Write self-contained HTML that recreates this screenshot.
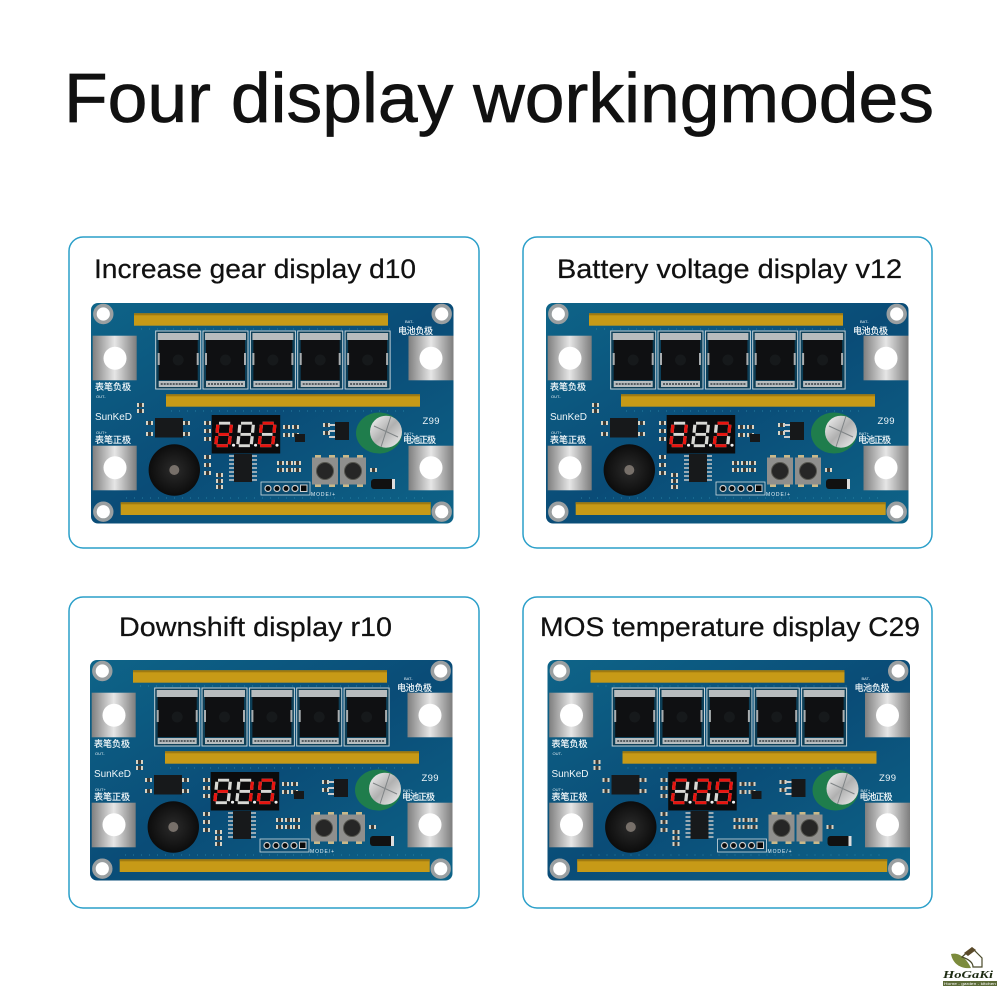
<!DOCTYPE html>
<html><head><meta charset="utf-8"><style>
html,body{margin:0;padding:0;background:#fff}
svg{display:block}
.cn{font-family:"Liberation Sans","Noto Sans CJK SC",sans-serif;fill:#eef5f8;font-size:9px;stroke:#eef5f8;stroke-width:.2}
.sm{font-family:"Liberation Sans",sans-serif;fill:#e8f2f6;font-size:4px}
.t{font-family:"Liberation Sans","Noto Sans CJK SC",sans-serif;fill:#111;stroke:#111;stroke-width:.25;font-size:27px}
.r{stroke:#e8140f}
.seg{fill:none;stroke-width:2.9}
</style></head><body>
<svg width="1000" height="1000" viewBox="0 0 1000 1000" xmlns="http://www.w3.org/2000/svg">
<defs>
<linearGradient id="sil" x1="0" x2="1" y1="0" y2="0"><stop offset="0" stop-color="#7f7f7f"/><stop offset=".5" stop-color="#e6e6e6"/><stop offset="1" stop-color="#7d7d7d"/></linearGradient>
<linearGradient id="pcb" x1="0" x2="1" y1="0" y2="1"><stop offset="0" stop-color="#0e6488"/><stop offset=".5" stop-color="#0a4c77"/><stop offset="1" stop-color="#0e6488"/></linearGradient>
<linearGradient id="cap" x1="0" x2="1" y1="0" y2="1"><stop offset="0" stop-color="#f7f7f7"/><stop offset=".5" stop-color="#b0b0b0"/><stop offset="1" stop-color="#f2f2f2"/></linearGradient>
<radialGradient id="buz"><stop offset="0" stop-color="#2b2b2b"/><stop offset="1" stop-color="#0c0c0c"/></radialGradient>

<g id="mos">
<rect x="0" y="0" width="45" height="58" fill="#0d3f58" stroke="#c4d2d8" stroke-width="1"/>
<rect x="2" y="2" width="41" height="7" fill="#b8bcbe"/>
<rect x="3" y="9" width="39" height="40" fill="#0f1012"/>
<circle cx="22.5" cy="29" r="5.5" fill="#16191b"/>
<rect x="2" y="22" width="2" height="12" fill="#a9adaf"/><rect x="41" y="22" width="2" height="12" fill="#a9adaf"/>
<rect x="3" y="50" width="39" height="6" fill="#b8bdbf"/>
<path d="M5 53h35" stroke="#333b40" stroke-width="1.6" stroke-dasharray="2 1"/>
</g>
<g id="btn">
<rect x="-10" y="-16" width="6" height="5" fill="#c9b98a"/><rect x="4" y="-16" width="6" height="5" fill="#c9b98a"/>
<rect x="-10" y="11" width="6" height="5" fill="#c9b98a"/><rect x="4" y="11" width="6" height="5" fill="#c9b98a"/>
<rect x="-13" y="-13.5" width="26" height="27" fill="#8f8f8d"/>
<circle cx="0" cy="0" r="9" fill="#55554f"/><circle cx="0" cy="0" r="8" fill="#262626"/>
</g>
<g id="smd"><rect width="7" height="4" fill="#d8d3c4"/><rect x="2" width="3" height="4" fill="#3a3a36"/></g>

<g id="board">
<rect x="0" y="0" width="362.5" height="220.5" rx="7" fill="url(#pcb)"/>
<rect x="43" y="10.3" width="254" height="12.4" fill="#c79a17"/>
<rect x="43" y="10.3" width="254" height="2" fill="#a07a10"/>
<rect x="75" y="91.3" width="254" height="12.4" fill="#c79a17"/>
<rect x="75" y="91.3" width="254" height="2" fill="#a07a10"/>
<rect x="29.7" y="199.3" width="310" height="12.7" fill="#c79a17"/>
<rect x="29.7" y="199.3" width="310" height="2" fill="#a07a10"/>
<path d="M50 26H300M80 108H320M35 195H335" stroke="#2f8fb0" stroke-width=".8" stroke-dasharray="1 7"/>

<rect x="1.7" y="32.7" width="44" height="44.6" fill="url(#sil)"/><circle cx="24" cy="55.3" r="11.5" fill="#fff"/>
<rect x="1.7" y="142.7" width="44" height="44.6" fill="url(#sil)"/><circle cx="24" cy="164.7" r="11.5" fill="#fff"/>
<rect x="317.5" y="32.7" width="45" height="44.6" fill="url(#sil)"/><circle cx="340" cy="55.3" r="11.5" fill="#fff"/>
<rect x="317.5" y="142.7" width="45" height="44.6" fill="url(#sil)"/><circle cx="340" cy="164.7" r="11.5" fill="#fff"/>

<g fill="#fff" stroke="#9a9fa1" stroke-width="3.6">
<circle cx="12.3" cy="11" r="8.4"/><circle cx="350.7" cy="11" r="8.4"/>
<circle cx="12.3" cy="208.7" r="8.4"/><circle cx="350.7" cy="208.7" r="8.4"/>
</g>

<use href="#mos" x="64.7" y="28"/><use href="#mos" x="112" y="28"/><use href="#mos" x="159.4" y="28"/><use href="#mos" x="206.7" y="28"/><use href="#mos" x="254.1" y="28"/>

<rect x="120.7" y="112" width="68.5" height="38.5" fill="#0b0b0c"/>

<rect x="64" y="115" width="28" height="19.5" fill="#17191b"/>
<use href="#smd" x="55" y="118"/><use href="#smd" x="55" y="129"/><use href="#smd" x="92" y="118"/><use href="#smd" x="92" y="129"/>
<use href="#smd" x="46" y="100"/><use href="#smd" x="46" y="106"/><use href="#smd" x="113" y="118"/><use href="#smd" x="113" y="126"/><use href="#smd" x="113" y="134"/>
<use href="#smd" x="113" y="152"/><use href="#smd" x="113" y="160"/><use href="#smd" x="113" y="168"/>
<use href="#smd" x="125" y="170"/><use href="#smd" x="125" y="176"/><use href="#smd" x="125" y="182"/>
<use href="#smd" x="186" y="158"/><use href="#smd" x="186" y="165"/><use href="#smd" x="195" y="158"/><use href="#smd" x="195" y="165"/><use href="#smd" x="203" y="158"/><use href="#smd" x="203" y="165"/>
<use href="#smd" x="192" y="122"/><use href="#smd" x="192" y="130"/><use href="#smd" x="201" y="122"/><use href="#smd" x="201" y="130"/>
<use href="#smd" x="232" y="120"/><use href="#smd" x="232" y="128"/>
<rect x="143" y="151" width="18" height="28" fill="#17191b"/>
<path d="M138 153h5M138 157h5M138 161h5M138 165h5M138 169h5M138 173h5M138 177h5M161 153h5M161 157h5M161 161h5M161 165h5M161 169h5M161 173h5M161 177h5" stroke="#c8c8c8" stroke-width="1.6"/>
<rect x="244" y="119" width="14" height="18" fill="#16181a"/>
<path d="M238 122h6M238 128h6M238 134h6" stroke="#ccc" stroke-width="2"/>
<rect x="204" y="131" width="10" height="8" fill="#16181a"/>

<circle cx="83.3" cy="167" r="25.7" fill="url(#buz)"/><circle cx="83.3" cy="167" r="5" fill="#77706a"/>

<rect x="170" y="179" width="49" height="13" fill="#0c4c70" stroke="#cfdde2" stroke-width=".8"/>
<g fill="#0a0a0a" stroke="#cfcfcf" stroke-width="1.2"><circle cx="177" cy="185.5" r="3"/><circle cx="186" cy="185.5" r="3"/><circle cx="195" cy="185.5" r="3"/><circle cx="204" cy="185.5" r="3"/></g>
<rect x="209.5" y="182" width="6.5" height="6.5" fill="#0a0a0a" stroke="#cfcfcf" stroke-width="1"/>

<ellipse cx="288" cy="130" rx="23" ry="20.5" fill="#1f7d4c"/>
<circle cx="295" cy="128.7" r="16" fill="url(#cap)"/>
<path d="M283 123L307 134M290 144L300 113" stroke="#7f8486" stroke-width="1"/>

<use href="#btn" x="234" y="168"/><use href="#btn" x="262" y="168"/>
<rect x="280" y="176" width="24" height="10" rx="3" fill="#111"/><rect x="301" y="176" width="3" height="10" fill="#ddd"/>
<use href="#smd" x="279" y="165"/>

<text class="cn" x="4" y="87" textLength="36">表笔负极</text>
<text class="sm" x="5" y="95">OUT-</text>
<text x="4" y="117" font-family="Liberation Sans,sans-serif" font-size="10" fill="#eef5f8" textLength="37">SunKeD</text>
<text class="sm" x="5" y="131">OUT+</text>
<text class="cn" x="4" y="140" textLength="36">表笔正极</text>
<text class="sm" x="314" y="20">BAT-</text>
<text class="cn" x="307" y="31" textLength="35">电池负极</text>
<text x="331.5" y="121" font-family="Liberation Sans,sans-serif" font-size="9.5" fill="#eef5f8" textLength="17">Z99</text>
<text class="sm" x="313" y="132">BAT+</text>
<text class="cn" x="312" y="140" textLength="33">电池正极</text>
<text class="sm" x="220" y="193" style="font-size:5px" textLength="24">MODE/+</text>
</g>

<path id="sa" d="M4 1.5H14"/>
<path id="sb" d="M15 3L14.3 11"/>
<path id="sc" d="M14 14.5L13.2 22.5"/>
<path id="sd" d="M2 24H12"/>
<path id="se" d="M2 14.5L1.2 22.5"/>
<path id="sf" d="M3 3L2.3 11"/>
<path id="sg" d="M3.5 12.7H13"/>
<g id="base" stroke="#d8d8d4">
<use href="#sa"/><use href="#sb"/><use href="#sc"/><use href="#sd"/><use href="#se"/><use href="#sf"/><use href="#sg"/>
<circle cx="17" cy="23.5" r="1.4" fill="#f0f0f0" stroke="none"/>
</g>
</defs>

<rect width="1000" height="1000" fill="#fff"/>
<text x="64" y="122" font-family="Liberation Sans,sans-serif" font-size="70" fill="#111" stroke="#111" stroke-width=".7" textLength="870" lengthAdjust="spacingAndGlyphs">Four display workingmodes</text>

<g fill="#fff" stroke="#2a9fc9" stroke-width="1.5">
<rect x="69" y="237" width="410" height="311" rx="14"/>
<rect x="523" y="237" width="409" height="311" rx="14"/>
<rect x="69" y="597" width="410" height="311" rx="14"/>
<rect x="523" y="597" width="409" height="311" rx="14"/>
</g>

<text class="t" x="94" y="278" textLength="322" lengthAdjust="spacingAndGlyphs">Increase gear display d10</text>
<text class="t" x="557" y="278" textLength="345" lengthAdjust="spacingAndGlyphs">Battery voltage display v12</text>
<text class="t" x="119" y="636" textLength="273" lengthAdjust="spacingAndGlyphs">Downshift display r10</text>
<text class="t" x="540" y="636" textLength="380" lengthAdjust="spacingAndGlyphs">MOS temperature display C29</text>

<!-- board 1 : d10 -->
<g transform="translate(91 303)">
<use href="#board"/>
<g class="seg" transform="translate(123.5 118.7) scale(1.12 1)"><use href="#base"/><g class="r"><use href="#sb"/><use href="#sc"/><use href="#sd"/><use href="#se"/><use href="#sf"/><use href="#sg"/></g></g>
<g class="seg" transform="translate(145.5 118.7) scale(1.12 1)"><use href="#base"/></g>
<g class="seg" transform="translate(167 118.7) scale(1.12 1)"><use href="#base"/><g class="r"><use href="#sa"/><use href="#sb"/><use href="#sc"/><use href="#sd"/><use href="#se"/><use href="#sf"/></g></g>
</g>

<!-- board 2 : v12 -->
<g transform="translate(546 303)">
<use href="#board"/>
<g class="seg" transform="translate(123.5 118.7) scale(1.12 1)"><use href="#base"/><g class="r"><use href="#sb"/><use href="#sc"/><use href="#sd"/><use href="#se"/><use href="#sf"/></g></g>
<g class="seg" transform="translate(145.5 118.7) scale(1.12 1)"><use href="#base"/></g>
<g class="seg" transform="translate(167 118.7) scale(1.12 1)"><use href="#base"/><g class="r"><use href="#sa"/><use href="#sb"/><use href="#sg"/><use href="#se"/><use href="#sd"/></g></g>
</g>

<!-- board 3 : r10 -->
<g transform="translate(90 660)">
<use href="#board"/>
<g class="seg" transform="translate(123.5 118.7) scale(1.12 1)"><use href="#base"/><g class="r"><use href="#se"/><use href="#sg"/></g></g>
<g class="seg" transform="translate(145.5 118.7) scale(1.12 1)"><use href="#base"/><g class="r"><use href="#sb"/><use href="#sc"/></g></g>
<g class="seg" transform="translate(167 118.7) scale(1.12 1)"><use href="#base"/><g class="r"><use href="#sa"/><use href="#sb"/><use href="#sc"/><use href="#sd"/><use href="#se"/><use href="#sf"/></g></g>
</g>

<!-- board 4 : C29 -->
<g transform="translate(547.5 660)">
<use href="#board"/>
<g class="seg" transform="translate(123.5 118.7) scale(1.12 1)"><use href="#base"/><g class="r"><use href="#sa"/><use href="#sd"/><use href="#se"/><use href="#sf"/></g></g>
<g class="seg" transform="translate(145.5 118.7) scale(1.12 1)"><use href="#base"/><g class="r"><use href="#sa"/><use href="#sb"/><use href="#sg"/><use href="#se"/><use href="#sd"/></g></g>
<g class="seg" transform="translate(167 118.7) scale(1.12 1)"><use href="#base"/><g class="r"><use href="#sa"/><use href="#sb"/><use href="#sc"/><use href="#sd"/><use href="#sf"/><use href="#sg"/></g></g>
</g>

<!-- logo -->
<path d="M951 954C958 952 966 957 971 968C962 969 953 965 951 954Z" fill="#7c8b3c"/>
<path d="M962 957L972 948L982 958V967H973C973 962 968 959 962 957Z" fill="#fff" stroke="#4a4a2a" stroke-width="1.2"/>
<path d="M964 953L972 947L976 950L968 956Z" fill="#5a4a2a"/>
<text x="943" y="978" font-family="Liberation Serif,serif" font-weight="bold" font-style="italic" font-size="10" fill="#1d2b12" textLength="50" lengthAdjust="spacingAndGlyphs">HoGaKi</text>
<rect x="943" y="981" width="54" height="5" fill="#5c6b38"/>
<text x="944" y="985" font-family="Liberation Sans,sans-serif" font-size="4" fill="#fff" textLength="52" lengthAdjust="spacingAndGlyphs">Home - garden - kitchen</text>
</svg>
</body></html>
